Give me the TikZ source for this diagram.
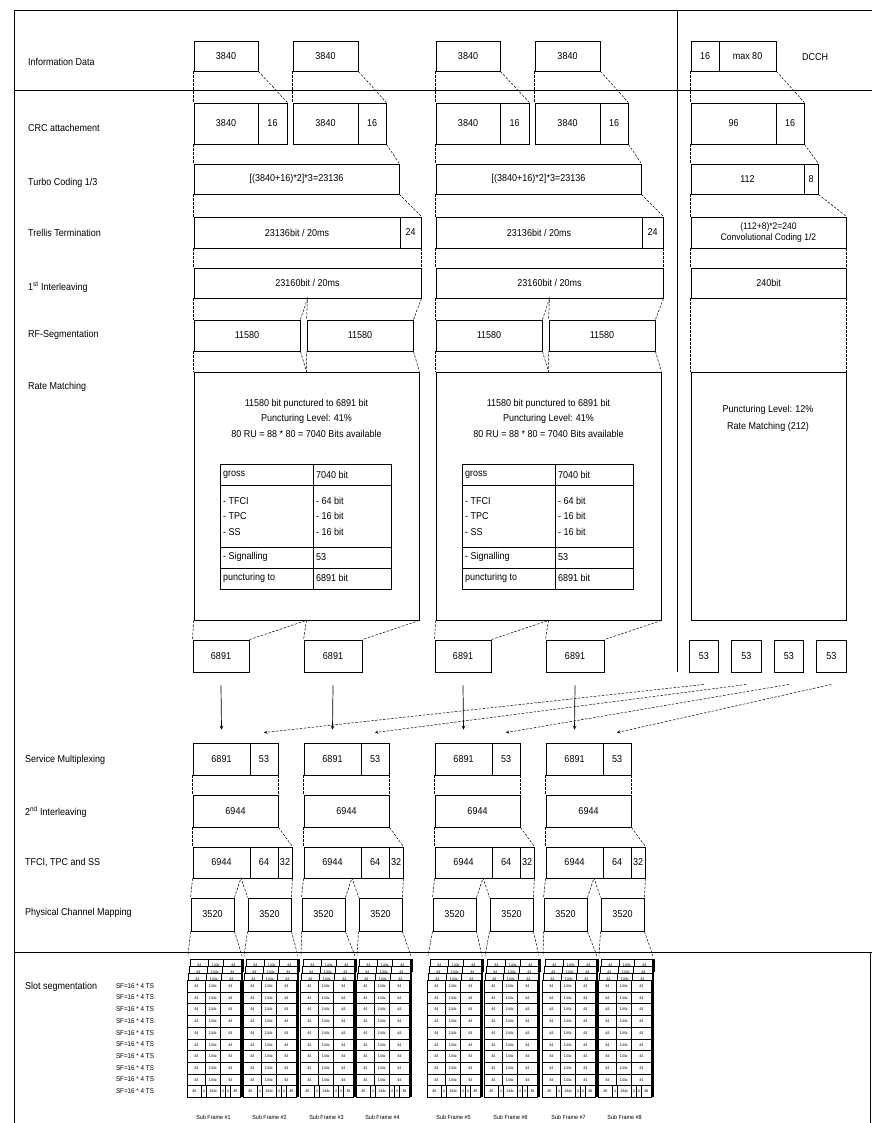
\documentclass[tikz,border=0pt]{standalone}
\usepackage{fontspec}
\setmainfont{Liberation Sans}[FakeStretch=0.9]
\usetikzlibrary{fit}

\begin{document}
\begin{tikzpicture}[x=1pt,y=-1pt,>=stealth,
    blk/.style={draw, line width=0.9pt, inner sep=0pt},
    every label/.style={inner sep=0pt, font=\fontsize{10}{11}\selectfont},
    guide/.style={line width=0.5pt, dash pattern=on 2.5pt off 1.5pt},
    sep/.style={line width=0.9pt},
    lbl/.style={anchor=west, inner sep=0pt, font=\fontsize{10}{12}\selectfont},
    txt/.style={inner sep=0pt, font=\fontsize{10}{15.5}\selectfont},
    tcell/.style={anchor=west, inner sep=0pt, font=\fontsize{10}{12}\selectfont},
    cell/.style={draw, fill=white, line width=0.6pt, inner sep=0pt, minimum height=11.7pt, font=\fontsize{4}{4}\selectfont},
    sflbl/.style={inner sep=0pt, font=\fontsize{7}{8}\selectfont}]

\useasboundingbox (0,0) rectangle (872,1123);

% Frame and separators
\draw[sep] (14,1123) -- (14,10) -- (872,10);
\draw[sep] (14,90) -- (872,90);
\draw[sep] (677,10) -- (677,672);
\draw[sep] (14,952) -- (872,952);
\draw[sep] (870,952) -- (870,1123);

% Row labels
\node[lbl] (l-info) at (28,62) {Information Data};
\node[lbl] (l-crc) at (28,128) {CRC attachement};
\node[lbl] (l-tur) at (28,183) {Turbo Coding 1/3};
\node[lbl] (l-tre) at (28,233) {Trellis Termination};
\node[lbl] (l-int) at (28,287) {1\textsuperscript{st} Interleaving};
\node[lbl] (l-rf) at (28,335) {RF-Segmentation};
\node[lbl] (l-rm) at (28,387) {Rate Matching};
\node[lbl] (l-sm) at (25,760) {Service Multiplexing};
\node[lbl] (l-il) at (25,812) {2\textsuperscript{nd} Interleaving};
\node[lbl] (l-tf) at (25,863) {TFCI, TPC and SS};
\node[lbl] (l-pc) at (25,913) {Physical Channel Mapping};
\node[lbl] (l-sl) at (25,987) {Slot segmentation};

% Two data channel groups
\foreach \g/\dx/\ka/\kb in {1/0/1/2,2/242/3/4}{
    \node[blk, fit={(194+\dx,41) (258+\dx,71)}, label=center:3840] (inf\g-a) {};
    \node[blk, fit={(293+\dx,41) (358+\dx,71)}, label=center:3840] (inf\g-b) {};
    \node[blk, fit={(194+\dx,103) (258+\dx,144)}, label=center:3840] (crc\g-a) {};
    \node[blk, fit={(258+\dx,103) (287+\dx,144)}, label=center:16] (crc\g-ap) {};
    \node[blk, fit={(293+\dx,103) (358+\dx,144)}, label=center:3840] (crc\g-b) {};
    \node[blk, fit={(358+\dx,103) (386+\dx,144)}, label=center:16] (crc\g-bp) {};
    \node[blk, fit={(194+\dx,164) (399+\dx,194)}, label={center:{[(3840+16)*2]*3=23136}}] (tur\g) {};
    \node[blk, fit={(194+\dx,217) (400+\dx,248)}, label={center:{23136bit / 20ms}}] (tre\g) {};
    \node[blk, fit={(400+\dx,217) (421+\dx,248)}, label=center:24] (tre\g-t) {};
    \node[blk, fit={(194+\dx,268) (421+\dx,298)}, label={center:{23160bit / 20ms}}] (int\g) {};
    \node[blk, fit={(194+\dx,320) (300+\dx,351)}, label=center:11580] (rf\g-a) {};
    \node[blk, fit={(307+\dx,320) (413+\dx,351)}, label=center:11580] (rf\g-b) {};
    \node[blk, fit={(194+\dx,372) (419+\dx,620)}] (rm\g) {};
    \node[txt, align=center] (rmt\g) at (306.5+\dx,418)
        {11580 bit punctured to 6891 bit\\Puncturing Level: 41\%\\80 RU = 88 * 80 = 7040 Bits available};

    % table
    \draw[line width=0.9pt] (220+\dx,464) rectangle (391+\dx,589);
    \foreach \ty in {485,547,568}
        \draw[line width=0.9pt] (220+\dx,\ty) -- (391+\dx,\ty);
    \draw[line width=0.9pt] (313+\dx,464) -- (313+\dx,589);
    \foreach \ty/\ta/\tb [count=\n] in {475/gross/7040 bit, 501/- TFCI/- 64 bit, 516/- TPC/- 16 bit,
            532/- SS/- 16 bit, 557/- Signalling/53, 578/puncturing to/6891 bit}{
        \node[tcell] (tb\g-\n-a) at (223+\dx,\ty) {\ta};
        \node[tcell] (tb\g-\n-b) at (316+\dx,\ty) {\tb};
    }

    \node[blk, fit={(193+\dx,640) (249+\dx,672)}, label=center:6891] (out\ka) {};
    \node[blk, fit={(304+\dx,640) (362+\dx,672)}, label=center:6891] (out\kb) {};

    \draw[guide] (inf\g-a.south west) -- (crc\g-a.north west);
    \draw[guide] (inf\g-a.south east) -- (crc\g-ap.north east);
    \draw[guide] (inf\g-b.south west) -- (crc\g-b.north west);
    \draw[guide] (inf\g-b.south east) -- (crc\g-bp.north east);
    \draw[guide] (crc\g-a.south west) -- (tur\g.north west);
    \draw[guide] (crc\g-bp.south east) -- (tur\g.north east);
    \draw[guide] (tur\g.south west) -- (tre\g.north west);
    \draw[guide] (tur\g.south east) -- (tre\g-t.north east);
    \draw[guide] (tre\g.south west) -- (int\g.north west);
    \draw[guide] (tre\g-t.south east) -- (int\g.north east);
    \draw[guide] (int\g.south west) -- (rf\g-a.north west);
    \draw[guide] (rf\g-a.north east) -- (int\g.south) -- (rf\g-b.north west);
    \draw[guide] (int\g.south east) -- (rf\g-b.north east);
    \draw[guide] (rf\g-a.south west) -- (rm\g.north west);
    \draw[guide] (rf\g-a.south east) -- (rm\g.north) -- (rf\g-b.south west);
    \draw[guide] (rf\g-b.south east) -- (rm\g.north east);
    \draw[guide] (rm\g.south west) -- (out\ka.north west);
    \draw[guide] (out\ka.north east) -- (rm\g.south) -- (out\kb.north west);
    \draw[guide] (rm\g.south east) -- (out\kb.north east);
}

% DCCH column
\node[blk, fit={(691,41) (719,71)}, label=center:16] (dch-a) {};
\node[blk, fit={(719,41) (776,71)}, label={center:{max 80}}] (dch-b) {};
\node[lbl] (dch) at (802,57) {DCCH};
\node[blk, fit={(691,103) (776,144)}, label=center:96] (dcrc-a) {};
\node[blk, fit={(776,103) (804,144)}, label=center:16] (dcrc-b) {};
\node[blk, fit={(691,164) (804,194)}, label=center:112] (dtur-a) {};
\node[blk, fit={(804,164) (818,194)}, label=center:8] (dtur-b) {};
\node[blk, fit={(691,217) (846,248)},
    label={[align=center, font=\fontsize{9.5}{10.5}\selectfont]center:{(112+8)*2=240\\Convolutional Coding 1/2}}] (dconv) {};
\node[blk, fit={(691,268) (846,298)}, label=center:240bit] (d240) {};
\node[blk, fit={(691,372) (846,620)}] (drm) {};
\node[txt, align=center, font=\fontsize{10}{16.5}\selectfont] (drmt) at (768,418.5)
    {Puncturing Level: 12\%\\Rate Matching (212)};
\foreach \k/\xl in {1/689,2/731.5,3/774,4/816.5}
    \node[blk, fit={(\xl,640) (\xl+29.5,672)}, label=center:53] (dd\k) {};

\draw[guide] (dch-a.south west) -- (dcrc-a.north west);
\draw[guide] (dch-b.south east) -- (dcrc-b.north east);
\draw[guide] (dcrc-a.south west) -- (dtur-a.north west);
\draw[guide] (dcrc-b.south east) -- (dtur-b.north east);
\draw[guide] (dtur-a.south west) -- (dconv.north west);
\draw[guide] (dtur-b.south east) -- (dconv.north east);
\draw[guide] (dconv.south west) -- (d240.north west);
\draw[guide] (dconv.south east) -- (d240.north east);
\draw[guide] (d240.south west) -- (drm.north west);
\draw[guide] (d240.south east) -- (drm.north east);

% Multiplexing, interleaving, mapping
\foreach \k/\L in {1/193,2/304,3/435,4/546}{
    \node[blk, fit={(\L,743) (\L+57,775)}, label=center:6891] (sm\k-a) {};
    \node[blk, fit={(\L+57,743) (\L+85,775)}, label=center:53] (sm\k-b) {};
    \node[blk, fit={(\L,795) (\L+85,827)}, label=center:6944] (il\k) {};
    \node[blk, fit={(\L,847) (\L+57,878)}, label=center:6944] (tf\k-a) {};
    \node[blk, fit={(\L+57,847) (\L+85,878)}, label=center:64] (tf\k-b) {};
    \node[blk, fit={(\L+85,847) (\L+99,878)}, label=center:32] (tf\k-c) {};
    \node[blk, fit={(\L-2,898) (\L+41,931)}, label=center:3520] (pc\k-a) {};
    \node[blk, fit={(\L+55,898) (\L+98,931)}, label=center:3520] (pc\k-b) {};
    \coordinate (pk\k) at (\L+48,878);

    \draw[guide] (sm\k-a.south west) -- (il\k.north west);
    \draw[guide] (sm\k-b.south east) -- (il\k.north east);
    \draw[guide] (il\k.south west) -- (tf\k-a.north west);
    \draw[guide] (il\k.south east) -- (tf\k-c.north east);
    \draw[guide] (tf\k-a.south west) -- (pc\k-a.north west);
    \draw[guide] (pc\k-a.north east) -- (pk\k) -- (pc\k-b.north west);
    \draw[guide] (tf\k-c.south east) -- (pc\k-b.north east);

    % data and signalling feeds
    \draw[->, line width=0.7pt] ([yshift=-13pt]out\k.south) -- ([yshift=13pt]sm\k-a.north);
    \draw[->, guide] ([yshift=-12pt]dd\k.south) -- ([yshift=10pt]sm\k-b.north);
}

% Slot segmentation
\foreach \r in {1,...,10}
    \node[sflbl] (sf\r) at (135,980+11.7*\r-5.85) {SF=16 * 4 TS};

\foreach \s/\X in {1/187,2/243,3/300,4/356,5/427,6/484,7/542,8/598}{
    \foreach \j in {3,2,1}{
        \foreach \c/\w/\t [count=\n] in {0/18/44,18/15/144c,33/20/44}
            \node[cell, minimum width=\w pt, anchor=north west] (sb\s-\j-\n) at (\X+\c+\j,980-7*\j) {\t};
    }
    \foreach \r in {1,...,9}{
        \foreach \c/\w/\t [count=\n] in {0/18/44,18/15/144c,33/20/44}
            \node[cell, minimum width=\w pt, anchor=north west] (sc\s-\r-\n) at (\X+\c,968.3+11.7*\r) {\t};
    }
    \foreach \c/\w/\t [count=\n] in {0/14/40,14/5/4,19/14/144c,33/5/4,38/5/4,43/10/36}
        \node[cell, minimum width=\w pt, anchor=north west] (sc\s-10-\n) at (\X+\c,1085.3) {\t};
    \draw[line width=1.6pt] (\X+55,959) -- (\X+55,1097);
    \coordinate (sl\s-tl) at (\X+1,956);
    \coordinate (sl\s-tr) at (\X+55,956);
    \node[sflbl, font=\fontsize{6}{7}\selectfont] (sub\s) at (\X+26.5,1117) {Sub Frame \#\s};
}

\foreach \k/\a/\b in {1/1/2,2/3/4,3/5/6,4/7/8}{
    \draw[guide] (pc\k-a.south west) -- (sl\a-tl);
    \draw[guide] (pc\k-a.south east) -- (sl\a-tr);
    \draw[guide] (pc\k-b.south west) -- (sl\b-tl);
    \draw[guide] (pc\k-b.south east) -- (sl\b-tr);
}

\end{tikzpicture}
\end{document}
